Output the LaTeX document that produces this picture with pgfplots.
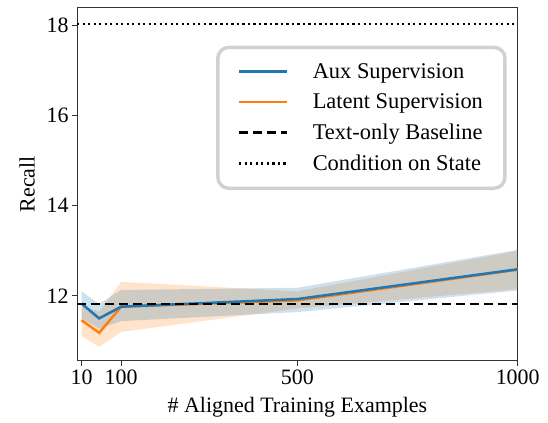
\documentclass[border={16bp 2bp 5bp 7bp}]{standalone}
\usepackage{pgfplots}
\pgfplotsset{compat=1.18}
\usepackage{fontspec}
\setmainfont{Liberation Serif}
\usepgfplotslibrary{fillbetween}
\definecolor{tblue}{HTML}{1F77B4}
\definecolor{torange}{HTML}{FF7F0E}
\begin{document}
\begin{tikzpicture}
\begin{axis}[
  scale only axis,
  width=440bp, height=353bp,
  xmin=0, xmax=1000, ymin=10.556, ymax=18.4,
  xtick={10,100,500,1000},
  ytick={12,14,16,18},
  tick align=outside,
  xtick pos=bottom, ytick pos=left,
  major tick length=5bp,
  axis line style={line width=0.9pt, black!80},
  every tick/.style={line width=0.9pt, black!80},
  /pgf/number format/assume math mode=true,
  /pgf/number format/1000 sep={},
  tick label style={font=\fontsize{22}{24}\selectfont},
  label style={font=\fontsize{22}{24}\selectfont},
  xlabel={\# Aligned Training Examples},
  ylabel={Recall},
  xlabel style={yshift=-6bp},
  ylabel style={yshift=5bp},
  legend cell align=left,
  legend style={at={(0.975,0.892)}, anchor=north east, font=\fontsize{22.5}{25}\selectfont,
    draw=black!18, line width=3.5pt, rounded corners=11bp, fill=white,
    inner xsep=20bp, inner ysep=14bp, row sep=10bp,
    /tikz/every odd column/.append style={column sep=22bp}},
  legend image code/.code={\draw[#1, line width=2.8pt] (0bp,0bp) -- (48bp,0bp);},
]
% bands
\addplot[name path=ou, draw=none, forget plot] coordinates {(10,11.78) (50,11.65) (100,12.31) (500,12.1) (1000,13.0)};
\addplot[name path=ol, draw=none, forget plot] coordinates {(10,11.11) (50,10.87) (100,11.2) (500,11.72) (1000,12.15)};
\addplot[torange, fill opacity=0.22, draw opacity=0.2, forget plot] fill between[of=ou and ol];
\addplot[name path=bu, draw=none, forget plot] coordinates {(10,12.1) (50,11.82) (100,12.13) (500,12.18) (1000,13.02)};
\addplot[name path=bl, draw=none, forget plot] coordinates {(10,11.5) (50,11.27) (100,11.44) (500,11.64) (1000,12.12)};
\addplot[tblue, fill opacity=0.22, draw opacity=0.2, forget plot] fill between[of=bu and bl];
% lines
\addplot[torange, line width=2.5pt, forget plot] coordinates {(10,11.46) (50,11.18) (100,11.76) (500,11.9) (1000,12.58)};
\addplot[tblue, line width=2.5pt, forget plot] coordinates {(10,11.83) (50,11.5) (100,11.76) (500,11.93) (1000,12.59)};
\addplot[black, line width=2.5pt, dash pattern=on 9bp off 5bp, forget plot] coordinates {(0,11.815) (1000,11.815)};
\addplot[black, line width=2.2pt, dash pattern=on 2.2bp off 3.3bp, forget plot] coordinates {(0,18.03) (1000,18.03)};
% legend entries
\addlegendimage{tblue, line width=2.8pt}
\addlegendentry{Aux Supervision}
\addlegendimage{torange, line width=2.8pt}
\addlegendentry{Latent Supervision}
\addlegendimage{black, line width=2.8pt, dash pattern=on 9bp off 5bp}
\addlegendentry{Text-only Baseline}
\addlegendimage{black, line width=2.8pt, dash pattern=on 2.2bp off 3.3bp}
\addlegendentry{Condition on State}
\end{axis}
\end{tikzpicture}
\end{document}
